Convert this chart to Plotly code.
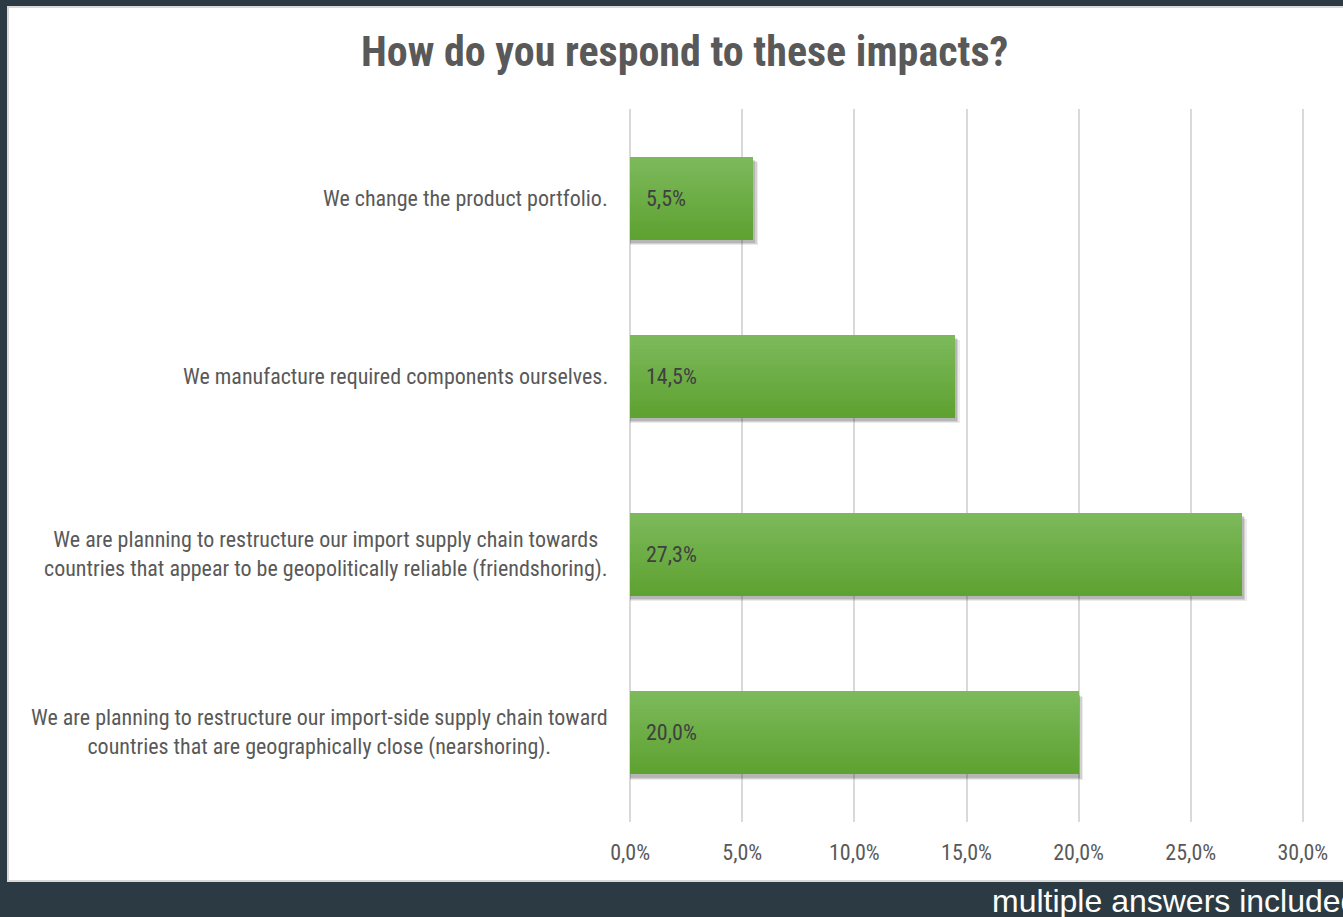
import plotly.graph_objects as go

# Survey responses, top to bottom
categories = [
    "We change the product portfolio.",
    "We manufacture required components ourselves.",
    "We are planning to restructure our import supply chain towards<br>countries that appear to be geopolitically reliable (friendshoring).",
    "We are planning to restructure our import-side supply chain toward<br>countries that are geographically close (nearshoring).",
]
shares = [5.5, 14.5, 27.3, 20.0]
x_ticks = [0, 5, 10, 15, 20, 25, 30]
x_tick_labels = ["0,0%", "5,0%", "10,0%", "15,0%", "20,0%", "25,0%", "30,0%"]

title_text = "How do you respond to these impacts?"
footer_text = "multiple answers included"

W, H = 1343, 917
L, R, T, B = 629, 39, 109, 95
PW, PH = W - L - R, H - T - B

NARROW = "Liberation Sans Narrow, Arial Narrow, Roboto Condensed, Liberation Sans, Arial, sans-serif"
BG_DARK = "#2c3b43"
TEXT_GREY = "#595959"


def px_x(x):
    return (x - L) / PW


def px_y(y):
    return (H - B - y) / PH


def lerp_hex(c1, c2, t):
    a = [int(c1[i:i + 2], 16) for i in (1, 3, 5)]
    b = [int(c2[i:i + 2], 16) for i in (1, 3, 5)]
    return "rgb({},{},{})".format(*[round(a[k] + (b[k] - a[k]) * t) for k in range(3)])


BAR_W = 0.465
fig = go.Figure()

# soft drop shadow under each bar
for k, (dx, dy, alpha) in enumerate([(0.20, 0.030, 0.10), (0.14, 0.024, 0.14), (0.08, 0.018, 0.18)]):
    fig.add_trace(go.Bar(
        y=categories, x=[v + dx for v in shares], orientation="h",
        width=BAR_W, offset=-BAR_W / 2 + dy,
        marker=dict(color=f"rgba(60,60,60,{alpha})", line=dict(width=0)),
        hoverinfo="skip", showlegend=False,
    ))

# vertical gradient fill: each slice runs from its top edge to the bar's bottom
N = 24
top_c, bot_c = "#7cb95b", "#5ea231"
for i in range(N):
    start = -BAR_W / 2 + BAR_W * i / N
    fig.add_trace(go.Bar(
        y=categories, x=shares, orientation="h",
        width=BAR_W / 2 - start, offset=start,
        marker=dict(color=lerp_hex(top_c, bot_c, i / (N - 1)), line=dict(width=0)),
        hoverinfo="skip", showlegend=False,
    ))

annotations = []
# value labels inside the bars
for cat, v in zip(categories, shares):
    annotations.append(dict(
        x=0, y=cat, xref="x", yref="y", xanchor="left", yanchor="middle", xshift=14,
        text=f"{v:.1f}".replace(".", ",") + "%", showarrow=False,
        font=dict(family=NARROW, size=22, color="#404040"),
    ))
# category labels, lines centred on each other
for cat in categories:
    annotations.append(dict(
        x=0, y=cat, xref="paper", yref="y", xanchor="right", yanchor="middle", xshift=-19,
        text=cat, align="center", showarrow=False,
        font=dict(family=NARROW, size=22, color=TEXT_GREY),
    ))
annotations.append(dict(
    x=px_x(684), y=px_y(52), xref="paper", yref="paper", xanchor="center", yanchor="middle",
    text=f"<b>{title_text}</b>", showarrow=False,
    font=dict(family=NARROW, size=42, color=TEXT_GREY),
))
annotations.append(dict(
    x=px_x(990), y=px_y(901), xref="paper", yref="paper", xanchor="left", yanchor="middle",
    text=footer_text, showarrow=False,
    font=dict(family="Liberation Sans, Arial, sans-serif", size=32, color="#ffffff"),
))

shapes = [
    dict(type="rect", xref="paper", yref="paper", layer="below",
         x0=px_x(8), x1=px_x(W + 10), y0=px_y(881), y1=px_y(7),
         fillcolor="#ffffff", line=dict(color="#d9d9d9", width=2)),
]

fig.update_layout(
    width=W, height=H,
    margin=dict(l=L, r=R, t=T, b=B),
    paper_bgcolor=BG_DARK, plot_bgcolor="rgba(0,0,0,0)",
    barmode="overlay", bargap=0,
    showlegend=False,
    annotations=annotations, shapes=shapes,
    xaxis=dict(
        range=[-0.05, 30.05], tickvals=x_ticks, ticktext=x_tick_labels,
        showgrid=True, gridcolor="#d9d9d9", gridwidth=2,
        zeroline=False, showline=False, ticks="",
        tickfont=dict(family=NARROW, size=22, color=TEXT_GREY),
        ticklabelstandoff=15, fixedrange=True,
    ),
    yaxis=dict(
        categoryorder="array", categoryarray=categories, autorange="reversed",
        showticklabels=False, showgrid=False, zeroline=False, showline=False, ticks="",
        fixedrange=True,
    ),
)

fig.write_html("out.html")
